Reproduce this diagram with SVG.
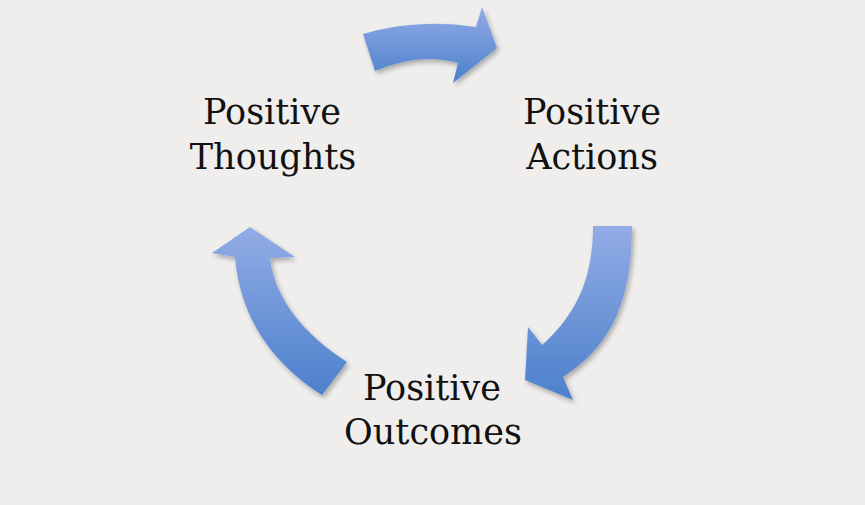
<svg xmlns="http://www.w3.org/2000/svg" width="865" height="505" viewBox="0 0 865 505">
  <defs>
    <linearGradient id="blue" x1="0" y1="0" x2="0" y2="1">
      <stop offset="0" stop-color="#92ace6"/>
      <stop offset="1" stop-color="#4c80cb"/>
    </linearGradient>
    <filter id="shadow" x="-20%" y="-20%" width="140%" height="140%">
      <feGaussianBlur in="SourceAlpha" stdDeviation="2.5"/>
      <feOffset dx="2" dy="3" result="b"/>
      <feComponentTransfer><feFuncA type="linear" slope="0.3"/></feComponentTransfer>
      <feMerge><feMergeNode/><feMergeNode in="SourceGraphic"/></feMerge>
    </filter>
  </defs>
  <style>
    .arrow { fill: url(#blue); filter: url(#shadow); }
    .label { font-family: "DejaVu Serif", "Liberation Serif", serif; font-size: 35px; fill: #111; text-anchor: middle; }
  </style>
  <rect width="865" height="505" fill="#efeeec"/>
  <g id="connectors">
    <path id="arrow-thoughts-actions" class="arrow" d="M363,34 Q418,18 476,27 L482,7 L497,48 L453,83 L458,63 Q420,52 375,71 Z"/>
    <path id="arrow-actions-outcomes" class="arrow" d="M593,226 L632,226 C632,300 612,345 563,377 L573,400 L525,380 L528,327 L542,345 C572,318 593,285 593,226 Z"/>
    <path id="arrow-outcomes-thoughts" class="arrow" d="M250,227 L295,257 L270,258 C275,300 305,335 347,362 L322,395 C275,365 240,320 235,257 L212,253 Z"/>
  </g>
  <g id="node-thoughts">
    <text class="label" x="272" y="124">Positive</text>
    <text class="label" x="273" y="169">Thoughts</text>
  </g>
  <g id="node-actions">
    <text class="label" x="592" y="124">Positive</text>
    <text class="label" x="592" y="169">Actions</text>
  </g>
  <g id="node-outcomes">
    <text class="label" x="432" y="400">Positive</text>
    <text class="label" x="433" y="444">Outcomes</text>
  </g>
</svg>
